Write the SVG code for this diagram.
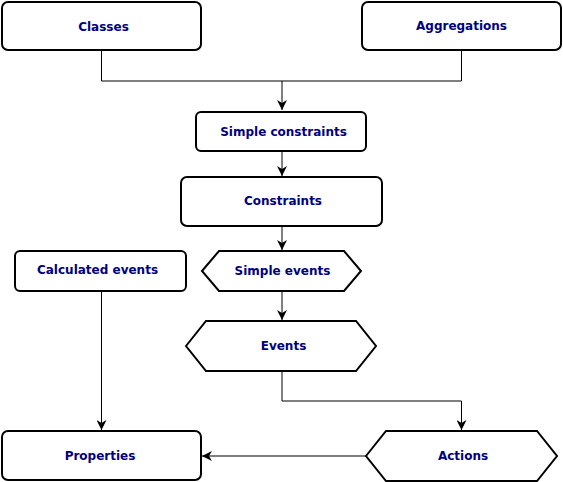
<svg xmlns="http://www.w3.org/2000/svg" width="563" height="482" viewBox="0 0 563 482">
<defs>
<marker id="arr" viewBox="0 0 10 10" refX="10" refY="5" markerWidth="10" markerHeight="10" markerUnits="userSpaceOnUse" orient="auto">
<path d="M0,0 L10,5 L0,10 L3,5 Z" fill="#000"/>
</marker>
<style>
.n{fill:#fff;stroke:#000;stroke-width:2}
.t{font-family:"DejaVu Sans",sans-serif;font-weight:bold;font-size:12px;fill:#00007f;text-anchor:middle;dominant-baseline:central}
.c{fill:none;stroke:#000;stroke-width:1}
</style>
</defs>
<rect width="563" height="482" fill="#fff"/>
<g id="connectors">
<path class="c" d="M101.5,50 V81 H461.5 V50"/>
<path class="c" d="M282,81 V110" marker-end="url(#arr)"/>
<path class="c" d="M282,151 V176" marker-end="url(#arr)"/>
<path class="c" d="M282,226 V250" marker-end="url(#arr)"/>
<path class="c" d="M282,291 V320" marker-end="url(#arr)"/>
<path class="c" d="M282,371 V401 H461.5 V430" marker-end="url(#arr)"/>
<path class="c" d="M366,456 H202" marker-end="url(#arr)"/>
<path class="c" d="M101.5,291 V430" marker-end="url(#arr)"/>
</g>
<g id="classes"><rect class="n" x="2" y="2" width="199" height="48" rx="6"/><text class="t" x="103.5" y="27">Classes</text></g>
<g id="aggregations"><rect class="n" x="362" y="2" width="199" height="48" rx="6"/><text class="t" x="461.5" y="26">Aggregations</text></g>
<g id="simple-constraints"><rect class="n" x="196" y="112" width="170" height="39" rx="5"/><text class="t" x="283.5" y="131.5">Simple constraints</text></g>
<g id="constraints"><rect class="n" x="181" y="177" width="201" height="49" rx="6"/><text class="t" x="283" y="201">Constraints</text></g>
<g id="calculated-events"><rect class="n" x="15" y="251" width="171" height="40" rx="5"/><text class="t" x="97.5" y="270">Calculated events</text></g>
<g id="simple-events"><polygon class="n" points="202,271 219,251 344,251 361,271 344,291 219,291"/><text class="t" x="282.5" y="271">Simple events</text></g>
<g id="events"><polygon class="n" points="186,346 206,321 356,321 376,346 356,371 206,371"/><text class="t" x="283.5" y="345.5">Events</text></g>
<g id="properties"><rect class="n" x="2" y="431" width="199" height="49" rx="6"/><text class="t" x="100" y="456">Properties</text></g>
<g id="actions"><polygon class="n" points="366,456 386,431 537,431 557,456 537,481 386,481"/><text class="t" x="463" y="455.5">Actions</text></g>
</svg>
